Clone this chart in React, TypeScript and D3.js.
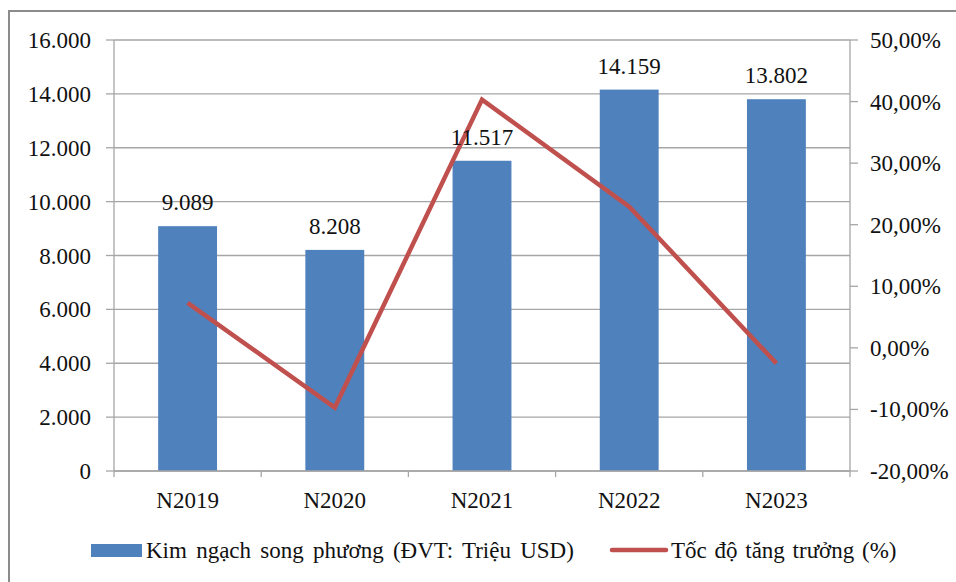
import React from "react";
import * as d3 from "d3";

const categories = ["N2019", "N2020", "N2021", "N2022", "N2023"];
const turnover = [9089, 8208, 11517, 14159, 13802];
const growth = [7.3, -9.69, 40.32, 22.94, -2.52];
const leftTicks = [0, 2000, 4000, 6000, 8000, 10000, 12000, 14000, 16000];
const rightTicks = [-20, -10, 0, 10, 20, 30, 40, 50];

const W = 956, H = 582;
const L = 114, R = 850, T = 40, B = 471;
const FONT = "Liberation Serif";
const BLUE = "#4F81BD";
const RED = "#C0504D";
const GRID = "#A6A6A6";
const TXT = { fontFamily: FONT };

const fmtThousands = (v: number) => {
  const s = Math.round(v).toString();
  return s.replace(/\B(?=(\d{3})+(?!\d))/g, ".");
};
const fmtPct = (v: number) => v.toFixed(2).replace(".", ",") + "%";

export default function App() {
  const x = d3.scaleBand<string>().domain(categories).range([L, R]).paddingInner(0.6).paddingOuter(0.3);
  const xBand = d3.scaleBand<string>().domain(categories).range([L, R]);
  const yL = d3.scaleLinear().domain([0, 16000]).range([B, T]);
  const yR = d3.scaleLinear().domain([-20, 50]).range([B, T]);
  const line = d3
    .line<number>()
    .x((_, i) => (xBand(categories[i]) as number) + xBand.bandwidth() / 2)
    .y((d) => yR(d));

  return (
    <svg width={W} height={H} style={{ position: "absolute", left: 0, top: 0, fontFamily: FONT }}>
      <rect x={0} y={0} width={W} height={H} fill="#fff" />
      <rect x={9} y={11} width={W + 20} height={H + 20} fill="none" stroke="#8c8c8c" strokeWidth={2} />
      {leftTicks.map((t) => (
        <line key={"g" + t} x1={L} x2={R} y1={yL(t)} y2={yL(t)} stroke={GRID} strokeWidth={1.3} />
      ))}
      {categories.map((c, i) => (
        <rect key={c} x={x(c)} y={yL(turnover[i])} width={x.bandwidth()} height={B - yL(turnover[i])} fill={BLUE} />
      ))}
      <line x1={L} x2={L} y1={T} y2={B} stroke={GRID} strokeWidth={1.3} />
      {leftTicks.map((t) => (
        <g key={"l" + t}>
          <line x1={L - 8} x2={L} y1={yL(t)} y2={yL(t)} stroke={GRID} strokeWidth={1.3} />
          <text x={91} y={yL(t)} dy="0.35em" textAnchor="end" fontSize={23} fill="#111" style={TXT}>
            {fmtThousands(t)}
          </text>
        </g>
      ))}
      <line x1={R} x2={R} y1={T} y2={B} stroke={GRID} strokeWidth={1.3} />
      {rightTicks.map((t) => (
        <g key={"r" + t}>
          <line x1={R} x2={R + 8} y1={yR(t)} y2={yR(t)} stroke={GRID} strokeWidth={1.3} />
          <text x={R + 20} y={yR(t)} dy="0.35em" textAnchor="start" fontSize={23} fill="#111" style={TXT}>
            {fmtPct(t)}
          </text>
        </g>
      ))}
      <line x1={L} x2={R} y1={B} y2={B} stroke={GRID} strokeWidth={1.3} />
      {categories.map((c) => (
        <line key={"bt" + c} x1={xBand(c)} x2={xBand(c)} y1={B} y2={B + 6} stroke={GRID} strokeWidth={1.3} />
      ))}
      <line x1={R} x2={R} y1={B} y2={B + 6} stroke={GRID} strokeWidth={1.3} />
      {categories.map((c) => (
        <text key={"xl" + c} x={(xBand(c) as number) + xBand.bandwidth() / 2} y={508} textAnchor="middle" fontSize={23} fill="#111" style={TXT}>
          {c}
        </text>
      ))}
      <path d={line(growth) || ""} fill="none" stroke={RED} strokeWidth={4.5} strokeLinejoin="miter" />
      {categories.map((c, i) => (
        <text key={"dl" + c} x={(x(c) as number) + x.bandwidth() / 2} y={yL(turnover[i]) - 16} textAnchor="middle" fontSize={23} fill="#111" style={TXT}>
          {fmtThousands(turnover[i])}
        </text>
      ))}
      <rect x={91} y={544} width={51} height={13} fill={BLUE} />
      <text x={146} y={558} fontSize={23} fill="#111" style={{ fontFamily: FONT, wordSpacing: "3.5px" }}>Kim ngạch song phương (ĐVT: Triệu USD)</text>
      <line x1={612} x2={666} y1={550} y2={550} stroke={RED} strokeWidth={4.5} strokeLinecap="round" />
      <text x={671} y={558} fontSize={23} fill="#111" style={{ fontFamily: FONT, wordSpacing: "2px" }}>Tốc độ tăng trưởng (%)</text>
    </svg>
  );
}
